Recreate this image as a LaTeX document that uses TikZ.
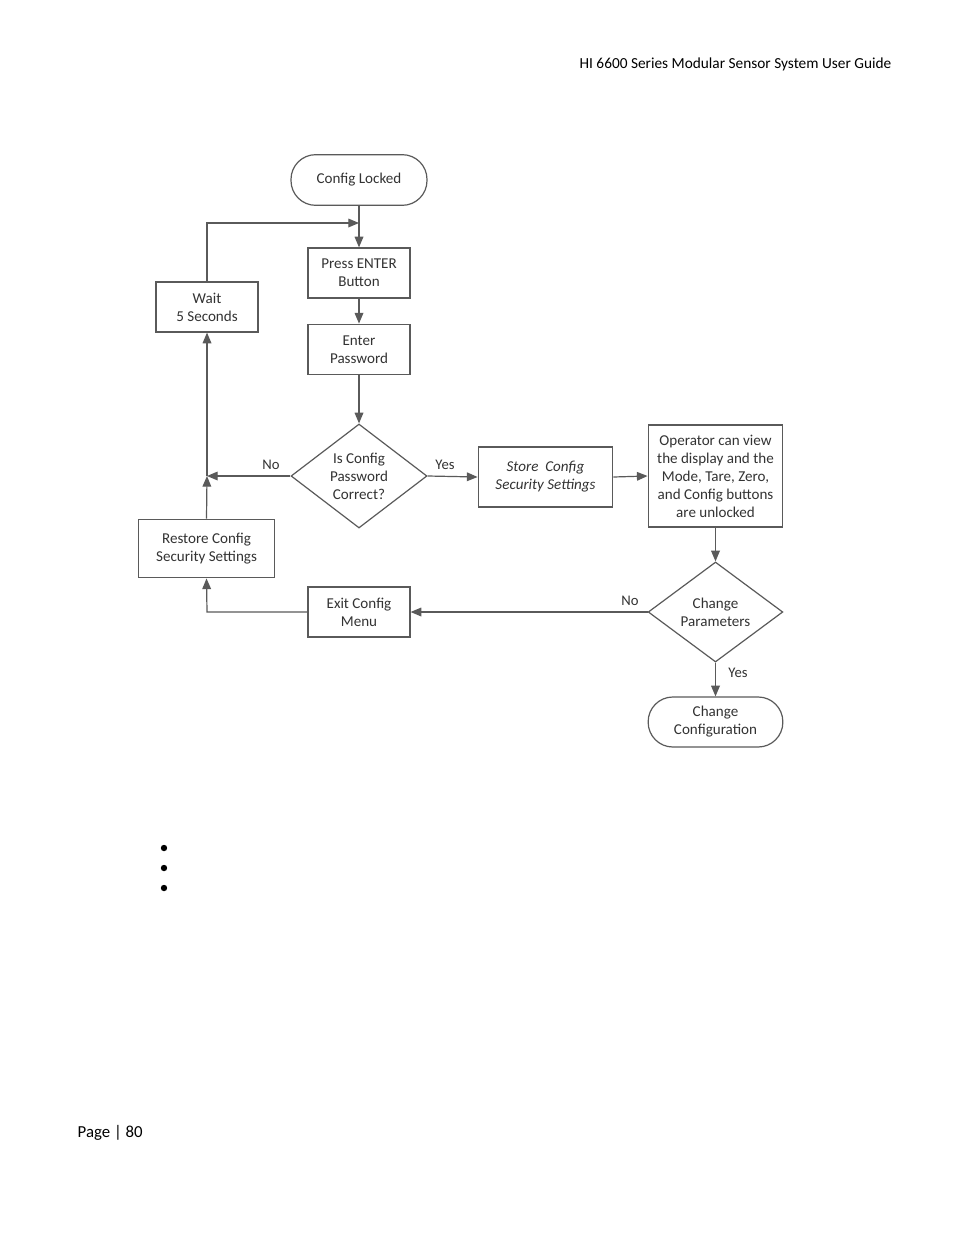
\documentclass[tikz,border=0pt]{standalone}
\usepackage{fontspec}
\setmainfont{Carlito}
\usetikzlibrary{shapes.geometric,arrows.meta}
\definecolor{ln}{HTML}{5A5A5A}
\definecolor{tx}{HTML}{333333}
\begin{document}
\begin{tikzpicture}[x=0.75pt,y=-0.75pt,
  every node/.style={font=\fontsize{11.3}{13.5}\selectfont,text=tx,align=center},
  procbox/.style={draw=ln,line width=0.9pt,rectangle,align=center,inner sep=0pt},
  termbox/.style={draw=ln,line width=0.9pt,rectangle,rounded corners=18.5pt,align=center,inner sep=0pt},
  decbox/.style={draw=ln,line width=0.9pt,diamond,align=center,inner sep=0pt},
  conn/.style={draw=ln,line width=0.9pt},
  arr/.style={conn,-{Triangle[length=8pt,width=6.5pt]}},
  lbl/.style={font=\fontsize{11}{12}\selectfont}]
\useasboundingbox (0,0) rectangle (954,1235);
\fill[white] (0,0) rectangle (954,1235);

\node[anchor=east,font=\fontsize{11.5}{13}\selectfont,text=black] (hdr) at (896,64) {HI 6600 Series Modular Sensor System User Guide};
\node[anchor=west,font=\fontsize{12.6}{14}\selectfont,text=black] (pg) at (73,1133) {Page | 80};
\fill[black] (164,848) circle (3.2);
\fill[black] (164,868) circle (3.2);
\fill[black] (164,888) circle (3.2);

\node[termbox,minimum width=102pt,minimum height=38pt] (lock) at (359,180) {Config Locked};
\node[procbox,minimum width=76.5pt,minimum height=37.5pt] (press) at (359,273) {Press ENTER\\Button};
\node[procbox,minimum width=76.5pt,minimum height=38pt] (pwd) at (359,349.5) {Enter\\Password};
\node[decbox,minimum width=102pt,minimum height=78pt] (dec) at (359,476) {};
\node (dect) at (359,476) {Is Config\\Password\\Correct?};
\node[procbox,minimum width=101pt,minimum height=45pt] (store) at (545.5,477) {\itshape Store\ \ Config\\\itshape Security Settings};
\node[procbox,minimum width=101pt,minimum height=76.5pt] (oper) at (715.5,476) {Operator can view\\the display and the\\Mode, Tare, Zero,\\and Config buttons\\are unlocked};
\node[decbox,minimum width=101pt,minimum height=75pt] (chg) at (715.5,612) {};
\node (chgt) at (715.5,612) {Change\\Parameters};
\node[termbox,minimum width=101pt,minimum height=37.5pt] (conf) at (715.5,722) {Change\\Configuration};
\node[procbox,minimum width=76.5pt,minimum height=37.5pt] (exit) at (359,612) {Exit Config\\Menu};
\node[procbox,minimum width=102.5pt,minimum height=44pt] (rest) at (206.5,548.5) {Restore Config\\Security Settings};
\node[procbox,minimum width=76.5pt,minimum height=37.5pt] (wait) at (207,307) {Wait\\5 Seconds};

\coordinate (top) at (359,223);
\coordinate (tl) at (207,223);
\coordinate (junc) at (207,476);
\coordinate (bl) at (207,612);

\draw[arr] (lock.south) -- (press.north);
\draw[arr] (wait.north) -- (tl) -- (top);
\draw[arr] (press.south) -- (pwd.north);
\draw[arr] (pwd.south) -- (dec.north);
\draw[arr] (dec.east) -- (store.west);
\draw[arr] (store.east) -- (oper.west);
\draw[arr] (oper.south) -- (chg.north);
\draw[arr] (chg.south) -- (conf.north);
\draw[arr] (chg.west) -- (exit.east);
\draw[arr] (exit.west) -- (bl) -- (rest.south);
\draw[arr] (rest.north) -- (junc);
\draw[arr] (junc) -- (wait.south);
\draw[arr] (dec.west) -- (junc);

\node[lbl] (no1) at (271,465) {No};
\node[lbl] (yes1) at (445,465) {Yes};
\node[lbl] (no2) at (630,601) {No};
\node[lbl] (yes2) at (738,673) {Yes};
\end{tikzpicture}
\end{document}
